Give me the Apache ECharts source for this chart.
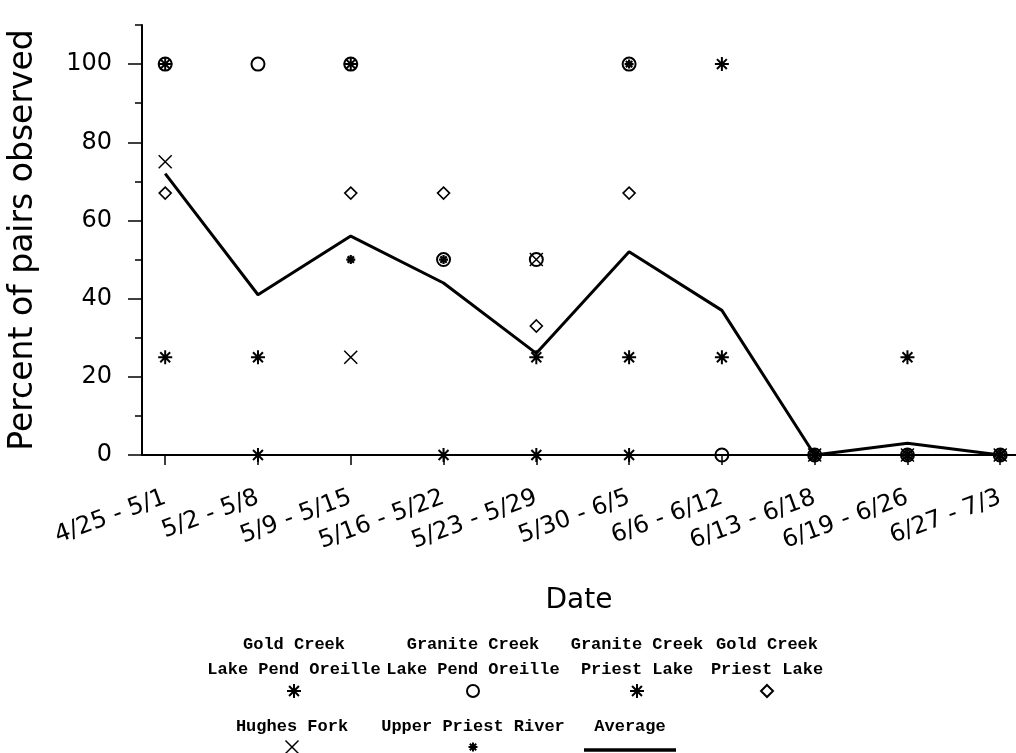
<!DOCTYPE html>
<html><head><meta charset="utf-8">
<script src="https://cdn.jsdelivr.net/npm/echarts@6/dist/echarts.min.js"></script>
<style>html,body{margin:0;padding:0;background:#fff}#c{width:1016px;height:753px}</style>
</head><body><div id="c"></div>
<script>
// ---------- data ----------
const categories = ["4/25 - 5/1", "5/2 - 5/8", "5/9 - 5/15", "5/16 - 5/22", "5/23 - 5/29",
  "5/30 - 6/5", "6/6 - 6/12", "6/13 - 6/18", "6/19 - 6/26", "6/27 - 7/3"];
const goldCreekLPO     = [100, 0, 100, 0, 0, 0, 100, 0, 0, 0];
const graniteCreekLPO  = [100, 100, 100, 50, 50, 100, 0, 0, 0, 0];
const graniteCreekPL   = [25, 25, null, null, 25, 25, 25, 0, 25, 0];
const goldCreekPL      = [67, null, 67, 67, 33, 67, null, 0, 0, 0];
const hughesFork       = [75, null, 25, null, 50, null, null, 0, 0, 0];
const upperPriestRiver = [null, null, 50, 50, null, 100, null, 0, 0, 0];
const average          = [72, 41, 56, 44, 26, 52, 37, 0, 3, 0];
const yMajorTicks = [0, 20, 40, 60, 80, 100];
const yMinorTicks = [10, 30, 50, 70, 90, 110];
const seriesNames = ["Gold Creek\nLake Pend Oreille", "Granite Creek\nLake Pend Oreille",
  "Granite Creek\nPriest Lake", "Gold Creek\nPriest Lake", "Hughes Fork", "Upper Priest River", "Average"];

// ---------- styling ----------
const STAR = 'path://M5,0L5,10M0,5L10,5M1.46,1.46L8.54,8.54M8.54,1.46L1.46,8.54';
const CROSS = 'path://M0,0L10,10M10,0L0,10';
const catIdx = categories.map((c, i) => i);
const pts = arr => arr.map((v, i) => v === null ? null : [i, v]).filter(p => p);

function scatter(name, data, symbol, size, lw) {
  return {
    name, type: 'scatter', data: pts(data), symbol, symbolSize: size,
    itemStyle: { color: 'rgba(0,0,0,0)', borderColor: '#000', borderWidth: lw, opacity: 1 },
    emphasis: { disabled: true }, z: 3
  };
}

const axisFont = 'DejaVu Sans';
const legendFont = 'bold 17px "Liberation Mono"';

// ---------- legend built as graphic ----------
const legendItems = [
  { name: seriesNames[0], x: 294, row: 0, sym: 'star', size: 14 },
  { name: seriesNames[1], x: 473, row: 0, sym: 'circle', size: 14 },
  { name: seriesNames[2], x: 637, row: 0, sym: 'star', size: 14 },
  { name: seriesNames[3], x: 767, row: 0, sym: 'diamond', size: 12 },
  { name: seriesNames[4], x: 292, row: 1, sym: 'cross', size: 13 },
  { name: seriesNames[5], x: 473, row: 1, sym: 'star', size: 9 },
  { name: seriesNames[6], x: 630, row: 1, sym: 'line', size: 92 }
];
const rowTextBottom = [678, 735];
const rowSymY = [691, 747];
const graphics = [];
legendItems.forEach(it => {
  const lines = it.name.split('\n');
  lines.forEach((ln, k) => {
    graphics.push({ type: 'text', x: it.x, y: rowTextBottom[it.row] - (lines.length - 1 - k) * 25,
      style: { text: ln, font: legendFont, fill: '#000', textAlign: 'center', textVerticalAlign: 'bottom' } });
  });
  const cx = it.x, cy = rowSymY[it.row], h = it.size / 2;
  const st = { stroke: '#000', lineWidth: 2, fill: 'none' };
  if (it.sym === 'star') {
    const d = h * 0.707;
    [[0, -h, 0, h], [-h, 0, h, 0], [-d, -d, d, d], [d, -d, -d, d]].forEach(s =>
      graphics.push({ type: 'line', shape: { x1: cx + s[0], y1: cy + s[1], x2: cx + s[2], y2: cy + s[3] }, style: st }));
  } else if (it.sym === 'circle') {
    graphics.push({ type: 'circle', shape: { cx, cy, r: h - 1 }, style: st });
  } else if (it.sym === 'diamond') {
    graphics.push({ type: 'polygon', shape: { points: [[cx, cy - h], [cx + h, cy], [cx, cy + h], [cx - h, cy]] }, style: st });
  } else if (it.sym === 'cross') {
    [[-h, -h, h, h], [h, -h, -h, h]].forEach(s =>
      graphics.push({ type: 'line', shape: { x1: cx + s[0], y1: cy + s[1], x2: cx + s[2], y2: cy + s[3] },
        style: { stroke: '#000', lineWidth: 1.5 } }));
  } else if (it.sym === 'line') {
    graphics.push({ type: 'line', shape: { x1: cx - h, y1: cy + 3, x2: cx + h, y2: cy + 3 }, style: { stroke: '#000', lineWidth: 3.5 } });
  }
});

const chart = echarts.init(document.getElementById('c'), null, { renderer: 'canvas' });
chart.setOption({
  animation: false,
  backgroundColor: '#fff',
  grid: { left: 142, right: 0, top: 25, bottom: 298, containLabel: false, outerBoundsMode: 'none' },
  xAxis: {
    type: 'value', min: -0.25, max: 9.17,
    name: 'Date', nameLocation: 'middle', nameGap: 132,
    nameTextStyle: { fontFamily: axisFont, fontSize: 28, color: '#000' },
    axisLine: { show: true, onZero: false, lineStyle: { color: '#000', width: 2 } },
    axisTick: { show: true, customValues: catIdx, length: 10, inside: false, lineStyle: { color: '#000', width: 1.5 } },
    axisLabel: { show: true, customValues: catIdx, formatter: v => categories[Math.round(v)], rotate: 20,
      margin: 42, fontFamily: axisFont, fontSize: 24, color: '#000' },
    splitLine: { show: false }
  },
  yAxis: [{
    type: 'value', min: 0, max: 110,
    name: 'Percent of pairs observed', nameLocation: 'middle', nameGap: 102, nameRotate: 90,
    nameTextStyle: { fontFamily: axisFont, fontSize: 33, color: '#000' },
    axisLine: { show: true, onZero: false, lineStyle: { color: '#000', width: 2 } },
    axisTick: { show: true, customValues: yMajorTicks, length: 14, lineStyle: { color: '#000', width: 1.5 } },
    axisLabel: { show: true, customValues: yMajorTicks, margin: 30, fontFamily: axisFont, fontSize: 24, color: '#000' },
    splitLine: { show: false }
  }, {
    type: 'value', min: 0, max: 110, position: 'left',
    axisLine: { show: false, onZero: false },
    axisTick: { show: true, customValues: yMinorTicks, length: 7, lineStyle: { color: '#000', width: 1.5 } },
    axisLabel: { show: false },
    splitLine: { show: false }
  }],
  graphic: graphics,
  series: [
    scatter(seriesNames[1], graniteCreekLPO, 'circle', 13, 2),
    scatter(seriesNames[3], goldCreekPL, 'diamond', 12, 1.6),
    scatter(seriesNames[0], goldCreekLPO, STAR, 14, 2),
    scatter(seriesNames[2], graniteCreekPL, STAR, 14, 2),
    scatter(seriesNames[4], hughesFork, CROSS, 13, 1.5),
    scatter(seriesNames[5], upperPriestRiver, STAR, 9, 2.2),
    { name: seriesNames[6], type: 'line', data: pts(average), showSymbol: false, symbol: 'none',
      lineStyle: { color: '#000', width: 3 }, z: 2 }
  ]
});
</script>
</body></html>
